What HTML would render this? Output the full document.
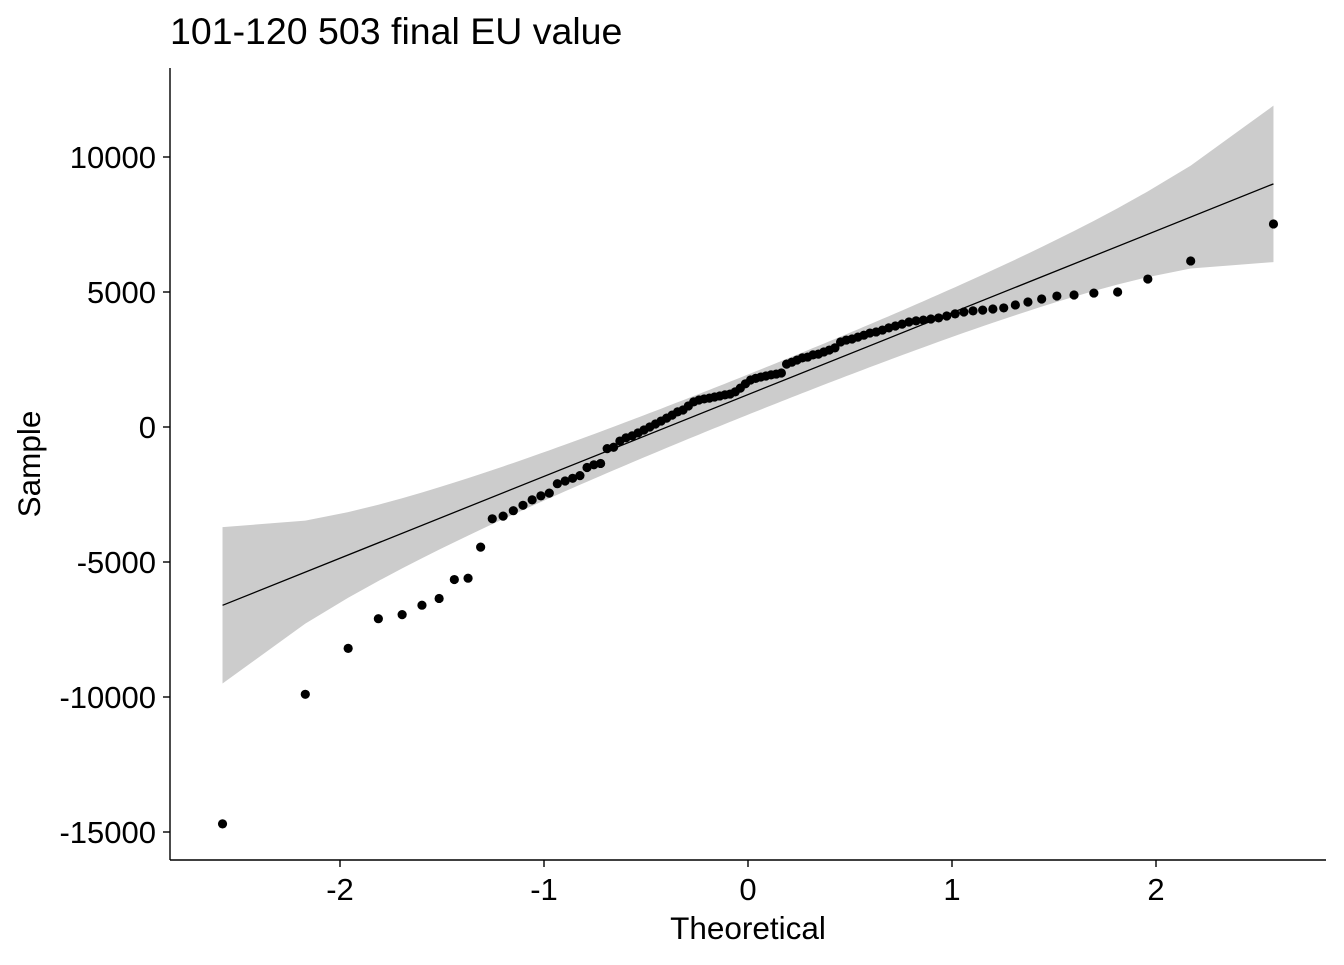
<!DOCTYPE html>
<html><head><meta charset="utf-8"><style>
body{margin:0;background:#fff;}
svg text{font-family:"Liberation Sans",Arial,sans-serif;fill:#000;}
</style></head><body>
<svg id="chart" width="1344" height="960" xmlns="http://www.w3.org/2000/svg">
<text x="170" y="44" font-size="37.5">101-120 503 final EU value</text>
<g id="band"></g>
<g id="refline"></g>
<g id="points"></g>
<g id="axes"></g>
<text x="748" y="939" font-size="31.5" text-anchor="middle">Theoretical</text>
<text transform="translate(40,464) rotate(-90)" font-size="31.5" text-anchor="middle">Sample</text>
</svg>
<script>
const sampleValues=[-14700,-9900,-8200,-7100,-6950,-6600,-6350,-5650,-5600,-4450,
-3400,-3300,-3100,-2900,-2700,-2550,-2450,-2100,-2000,-1900,
-1800,-1500,-1400,-1350,-800,-750,-520,-400,-330,-220,
-110,0,110,220,330,440,560,630,780,930,
1000,1040,1070,1110,1150,1190,1220,1300,1440,1600,
1740,1800,1850,1890,1930,1960,2000,2330,2400,2480,
2560,2590,2670,2700,2780,2850,2930,3150,3220,3260,
3330,3400,3480,3520,3590,3670,3740,3810,3890,3930,
3960,4000,4040,4110,4190,4260,4300,4330,4370,4410,
4520,4630,4740,4850,4890,4960,5000,5480,6150,7520];
const xTicks=[-2,-1,0,1,2];
const yTicks=[-15000,-10000,-5000,0,5000,10000];
const lineParams=[1200,3030]; // fitted intercept, slope
const NS="http://www.w3.org/2000/svg";
const sx=v=>748+204*v;
const sy=v=>427-0.027*v;
function qnorm(p){
 const a=[-39.6968302866538,220.946098424521,-275.928510446969,138.357751867269,-30.6647980661472,2.50662827745924],
 b=[-54.4760987982241,161.585836858041,-155.698979859887,66.8013118877197,-13.2806815528857],
 c=[-0.00778489400243029,-0.322396458041136,-2.40075827716184,-2.54973253934373,4.37466414146497,2.93816398269878],
 d=[0.00778469570904146,0.32246712907004,2.445134137143,3.75440866190742];
 let q,r;
 if(p<0.02425){q=Math.sqrt(-2*Math.log(p));return (((((c[0]*q+c[1])*q+c[2])*q+c[3])*q+c[4])*q+c[5])/((((d[0]*q+d[1])*q+d[2])*q+d[3])*q+1);}
 if(p>1-0.02425){q=Math.sqrt(-2*Math.log(1-p));return -(((((c[0]*q+c[1])*q+c[2])*q+c[3])*q+c[4])*q+c[5])/((((d[0]*q+d[1])*q+d[2])*q+d[3])*q+1);}
 q=p-0.5;r=q*q;return (((((a[0]*r+a[1])*r+a[2])*r+a[3])*r+a[4])*r+a[5])*q/(((((b[0]*r+b[1])*r+b[2])*r+b[3])*r+b[4])*r+1);
}
const n=sampleValues.length;
const sorted=sampleValues.slice().sort((a,b)=>a-b);
const probs=sorted.map((_,i)=>(i+0.5)/n);
const theo=probs.map(qnorm);
const [b0,b1]=lineParams;
const lineAt=z=>b0+b1*z;
let up=[],lo=[];
theo.forEach((z,i)=>{const p=probs[i];const dn=Math.exp(-z*z/2)/Math.sqrt(2*Math.PI);
 const se=b1/dn*Math.sqrt(p*(1-p)/n);up.push([sx(z),sy(lineAt(z)+1.96*se)]);lo.push([sx(z),sy(lineAt(z)-1.96*se)]);});
const poly=document.createElementNS(NS,'polygon');
poly.setAttribute('points',up.concat(lo.reverse()).map(p=>p.join(',')).join(' '));
poly.setAttribute('fill','#cccccc');


document.getElementById('band').appendChild(poly);
const ln=document.createElementNS(NS,'line');
const z0=theo[0],z1=theo[n-1];
ln.setAttribute('x1',sx(z0));ln.setAttribute('y1',sy(lineAt(z0)));
ln.setAttribute('x2',sx(z1));ln.setAttribute('y2',sy(lineAt(z1)));
ln.setAttribute('stroke','#000');ln.setAttribute('stroke-width','1.3');


document.getElementById('refline').appendChild(ln);
const pg=document.getElementById('points');
sorted.forEach((v,i)=>{const c=document.createElementNS(NS,'circle');
 c.setAttribute('cx',sx(theo[i]));c.setAttribute('cy',sy(v));c.setAttribute('r','4.6');c.setAttribute('fill','#000');
 
 
 pg.appendChild(c);});
const ax=document.getElementById('axes');
function mk(tag,attrs,name,txt){const e=document.createElementNS(NS,tag);for(const k in attrs)e.setAttribute(k,attrs[k]);
 
 
 if(txt!==undefined)e.textContent=txt;ax.appendChild(e);return e;}
mk('line',{x1:170,y1:68,x2:170,y2:860,stroke:'#000','stroke-width':1.4},'y-axis-line');
mk('line',{x1:170,y1:860,x2:1326,y2:860,stroke:'#000','stroke-width':1.4},'x-axis-line');
xTicks.forEach(t=>{mk('line',{x1:sx(t),y1:860,x2:sx(t),y2:867,stroke:'#000','stroke-width':1.4},'x-tick');
 mk('text',{x:sx(t),y:900,'font-size':31,'text-anchor':'middle'},'x-tick-label',t<0?'-'+Math.abs(t):String(t));});
yTicks.forEach(t=>{mk('line',{x1:163,y1:sy(t),x2:170,y2:sy(t),stroke:'#000','stroke-width':1.4},'y-tick');
 mk('text',{x:156,y:sy(t)+11,'font-size':31,'text-anchor':'end'},'y-tick-label',String(t));});
</script>
</body></html>
